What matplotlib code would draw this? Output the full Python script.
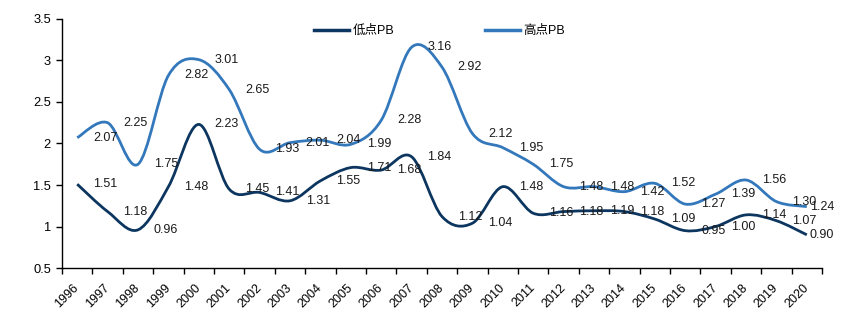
import numpy as np
import matplotlib.pyplot as plt
from matplotlib.path import Path
from matplotlib.patches import PathPatch
from matplotlib.lines import Line2D

years = [str(y) for y in range(1996, 2021)]
low_pb = [1.51, 1.18, 0.96, 1.48, 2.23, 1.45, 1.41, 1.31, 1.55, 1.71, 1.68, 1.84, 1.12,
          1.04, 1.48, 1.16, 1.18, 1.19, 1.18, 1.09, 0.95, 1.00, 1.14, 1.07, 0.90]
high_pb = [2.07, 2.25, 1.75, 2.82, 3.01, 2.65, 1.93, 2.01, 2.04, 1.99, 2.28, 3.16, 2.92,
           2.12, 1.95, 1.75, 1.48, 1.48, 1.42, 1.52, 1.27, 1.39, 1.56, 1.30, 1.24]

DARK = "#0c365f"
LIGHT = "#3478bc"
FONT = ["Liberation Sans", "Noto Sans CJK SC"]
plt.rcParams["font.family"] = FONT


def smooth_path(xs, ys):
    # excel style smoothed line: bezier with control points from neighbours (catmull-rom)
    pts = np.column_stack([xs, ys]).astype(float)
    n = len(pts)
    verts = [pts[0]]
    codes = [Path.MOVETO]
    for i in range(n - 1):
        p0 = pts[max(i - 1, 0)]
        p1 = pts[i]
        p2 = pts[i + 1]
        p3 = pts[min(i + 2, n - 1)]
        c1 = p1 + (p2 - p0) / 6.0
        c2 = p2 - (p3 - p1) / 6.0
        verts += [c1, c2, p2]
        codes += [Path.CURVE4] * 3
    return Path(verts, codes)


fig = plt.figure(figsize=(8.52, 3.24), dpi=100)
ax = fig.add_axes([0.0728, 0.1728, 0.892, 0.7686])

x = np.arange(len(years))
for vals, col in [(low_pb, DARK), (high_pb, LIGHT)]:
    ax.add_patch(PathPatch(smooth_path(x, vals), facecolor="none", edgecolor=col,
                           lw=2.0, capstyle="butt", joinstyle="round"))

# data labels sit one category to the right of their point, as in the source
for vals in (low_pb, high_pb):
    for i, v in enumerate(vals):
        off = 0.92 if i < len(vals) - 1 else 0.5
        ax.text(i + off, v, f"{v:.2f}", ha="center", va="center",
                fontsize=9, color="#1a1a1a")

ax.set_xlim(-0.5, len(years) - 0.5)
ax.set_ylim(0.5, 3.5)
ax.set_yticks(np.arange(0.5, 3.51, 0.5))
ax.set_yticklabels(["0.5", "1", "1.5", "2", "2.5", "3", "3.5"])
ax.set_xticks(x)
ax.set_xticklabels(years, rotation=45, ha="right", va="center", rotation_mode="anchor")
ax.set_xticks(np.arange(-0.5, len(years), 1.0), minor=True)
ax.tick_params(axis="x", which="major", length=0, pad=13, labelsize=9)
ax.tick_params(axis="x", which="minor", length=4, width=1, color="black")
ax.tick_params(axis="y", length=4, width=1, labelsize=9.3, pad=4)

for s in ("top", "right"):
    ax.spines[s].set_visible(False)
for s in ("left", "bottom"):
    ax.spines[s].set_linewidth(1)
    ax.spines[s].set_color("black")

handles = [Line2D([], [], color=DARK, lw=2.5), Line2D([], [], color=LIGHT, lw=2.5)]
ax.legend(handles, ["低点PB", "高点PB"], loc="center", bbox_to_anchor=(0.497, 0.952),
          ncol=2, frameon=False, fontsize=9, handlelength=2.8, handletextpad=0.3,
          columnspacing=7.2)

fig.savefig("out.png", dpi=100)
